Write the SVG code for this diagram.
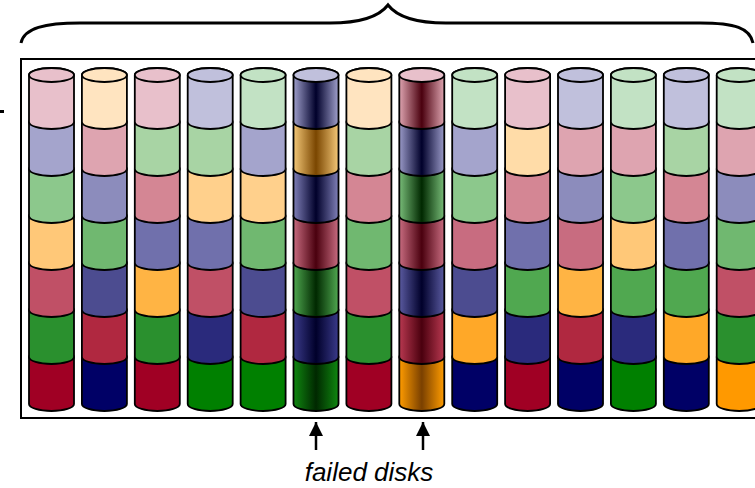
<svg xmlns="http://www.w3.org/2000/svg" xmlns:xlink="http://www.w3.org/1999/xlink" width="755" height="488" viewBox="0 0 755 488">
<style>
.s{stroke:#000;stroke-width:1.8;stroke-linejoin:round}
.R0{fill:#e8c0cb}.O0{fill:#ffe4c0}.B0{fill:#c0c0dc}.G0{fill:#c2e2c4}
.R1{fill:#dea4b0}.O1{fill:#ffdca8}.B1{fill:#a4a4cc}.G1{fill:#a8d4a4}
.R2{fill:#d48694}.O2{fill:#ffd08c}.B2{fill:#8c8cbc}.G2{fill:#8cc88c}
.R3{fill:#c86c80}.O3{fill:#ffc878}.B3{fill:#7070ac}.G3{fill:#70b870}
.R4{fill:#c05066}.O4{fill:#ffb444}.B4{fill:#4c4c90}.G4{fill:#50a850}
.R5{fill:#b02840}.O5{fill:#ffa828}.B5{fill:#2a2a7c}.G5{fill:#2a902e}
.R6{fill:#a00024}.O6{fill:#ff9900}.B6{fill:#000066}.G6{fill:#008000}
.lbl{font-family:"Liberation Sans",Arial,sans-serif;font-style:italic;font-size:26px;fill:#000}
</style>
<defs>
<path id="seg" class="s" d="M-22.5,0 V47 A22.5,7 0 0 0 22.5,47 V0 A22.5,7 0 0 0 -22.5,0 Z"/>
<ellipse id="top" class="s" cx="0" cy="0" rx="22.5" ry="7"/>
<linearGradient id="gB0"><stop offset="0" stop-color="#a0a0cc"/><stop offset="0.5" stop-color="#00002a"/><stop offset="1" stop-color="#a0a0cc"/></linearGradient>
<linearGradient id="gB1"><stop offset="0" stop-color="#9a9ac8"/><stop offset="0.5" stop-color="#00002a"/><stop offset="1" stop-color="#9a9ac8"/></linearGradient>
<linearGradient id="gB2"><stop offset="0" stop-color="#8080b8"/><stop offset="0.5" stop-color="#00002a"/><stop offset="1" stop-color="#8080b8"/></linearGradient>
<linearGradient id="gB4"><stop offset="0" stop-color="#5a5aa0"/><stop offset="0.5" stop-color="#00002a"/><stop offset="1" stop-color="#5a5aa0"/></linearGradient>
<linearGradient id="gB5"><stop offset="0" stop-color="#3a3a8a"/><stop offset="0.5" stop-color="#00002a"/><stop offset="1" stop-color="#3a3a8a"/></linearGradient>
<linearGradient id="gO1"><stop offset="0" stop-color="#f4c878"/><stop offset="0.5" stop-color="#7a4600"/><stop offset="1" stop-color="#f4c878"/></linearGradient>
<linearGradient id="gO6"><stop offset="0" stop-color="#ff9c00"/><stop offset="0.5" stop-color="#7a4000"/><stop offset="1" stop-color="#ff9c00"/></linearGradient>
<linearGradient id="gR0"><stop offset="0" stop-color="#dea4b0"/><stop offset="0.5" stop-color="#4a000e"/><stop offset="1" stop-color="#dea4b0"/></linearGradient>
<linearGradient id="gR3"><stop offset="0" stop-color="#c86c80"/><stop offset="0.5" stop-color="#4a000e"/><stop offset="1" stop-color="#c86c80"/></linearGradient>
<linearGradient id="gR5"><stop offset="0" stop-color="#b83850"/><stop offset="0.5" stop-color="#4a000e"/><stop offset="1" stop-color="#b83850"/></linearGradient>
<linearGradient id="gG2"><stop offset="0" stop-color="#78bc78"/><stop offset="0.5" stop-color="#002800"/><stop offset="1" stop-color="#78bc78"/></linearGradient>
<linearGradient id="gG4"><stop offset="0" stop-color="#50a850"/><stop offset="0.5" stop-color="#002800"/><stop offset="1" stop-color="#50a850"/></linearGradient>
<linearGradient id="gG6"><stop offset="0" stop-color="#108810"/><stop offset="0.5" stop-color="#002800"/><stop offset="1" stop-color="#108810"/></linearGradient>
<marker id="arr" viewBox="0 0 14 16" markerUnits="userSpaceOnUse" markerWidth="14" markerHeight="16" refX="14" refY="8" orient="auto">
<path d="M0,1 L14,8 L0,15 Z" fill="#000"/>
</marker>
</defs>

<rect width="755" height="488" fill="#fff"/>

<g id="brace">
<path d="M21,43 C24,28 45,23 80,23 L330,23 C358,23 378,18 388,5 C398,18 418,23 446,23 L700,23 C735,23 750,28 753,43" fill="none" stroke="#000" stroke-width="3"/>
</g>

<rect id="frame" x="21" y="59" width="760" height="359" fill="#fff" stroke="#000" stroke-width="2"/>
<rect x="0" y="110" width="4" height="3" fill="#000"/>

<g id="disk-0">
<use href="#seg" x="51.5" y="357" class="R6"/><use href="#seg" x="51.5" y="310" class="G5"/><use href="#seg" x="51.5" y="263" class="R4"/><use href="#seg" x="51.5" y="216" class="O3"/><use href="#seg" x="51.5" y="169" class="G2"/><use href="#seg" x="51.5" y="122" class="B1"/><use href="#seg" x="51.5" y="75" class="R0"/><use href="#top" x="51.5" y="75" class="R0"/>
</g>
<g id="disk-1">
<use href="#seg" x="104.4" y="357" class="B6"/><use href="#seg" x="104.4" y="310" class="R5"/><use href="#seg" x="104.4" y="263" class="B4"/><use href="#seg" x="104.4" y="216" class="G3"/><use href="#seg" x="104.4" y="169" class="B2"/><use href="#seg" x="104.4" y="122" class="R1"/><use href="#seg" x="104.4" y="75" class="O0"/><use href="#top" x="104.4" y="75" class="O0"/>
</g>
<g id="disk-2">
<use href="#seg" x="157.3" y="357" class="R6"/><use href="#seg" x="157.3" y="310" class="G5"/><use href="#seg" x="157.3" y="263" class="O4"/><use href="#seg" x="157.3" y="216" class="B3"/><use href="#seg" x="157.3" y="169" class="R2"/><use href="#seg" x="157.3" y="122" class="G1"/><use href="#seg" x="157.3" y="75" class="R0"/><use href="#top" x="157.3" y="75" class="R0"/>
</g>
<g id="disk-3">
<use href="#seg" x="210.2" y="357" class="G6"/><use href="#seg" x="210.2" y="310" class="B5"/><use href="#seg" x="210.2" y="263" class="R4"/><use href="#seg" x="210.2" y="216" class="B3"/><use href="#seg" x="210.2" y="169" class="O2"/><use href="#seg" x="210.2" y="122" class="G1"/><use href="#seg" x="210.2" y="75" class="B0"/><use href="#top" x="210.2" y="75" class="B0"/>
</g>
<g id="disk-4">
<use href="#seg" x="263.1" y="357" class="G6"/><use href="#seg" x="263.1" y="310" class="R5"/><use href="#seg" x="263.1" y="263" class="B4"/><use href="#seg" x="263.1" y="216" class="G3"/><use href="#seg" x="263.1" y="169" class="O2"/><use href="#seg" x="263.1" y="122" class="B1"/><use href="#seg" x="263.1" y="75" class="G0"/><use href="#top" x="263.1" y="75" class="G0"/>
</g>
<g id="disk-5">
<use href="#seg" x="316" y="357" fill="url(#gG6)"/><use href="#seg" x="316" y="310" fill="url(#gB5)"/><use href="#seg" x="316" y="263" fill="url(#gG4)"/><use href="#seg" x="316" y="216" fill="url(#gR3)"/><use href="#seg" x="316" y="169" fill="url(#gB2)"/><use href="#seg" x="316" y="122" fill="url(#gO1)"/><use href="#seg" x="316" y="75" fill="url(#gB0)"/><use href="#top" x="316" y="75" class="B0"/>
</g>
<g id="disk-6">
<use href="#seg" x="368.9" y="357" class="R6"/><use href="#seg" x="368.9" y="310" class="G5"/><use href="#seg" x="368.9" y="263" class="R4"/><use href="#seg" x="368.9" y="216" class="G3"/><use href="#seg" x="368.9" y="169" class="R2"/><use href="#seg" x="368.9" y="122" class="G1"/><use href="#seg" x="368.9" y="75" class="O0"/><use href="#top" x="368.9" y="75" class="O0"/>
</g>
<g id="disk-7">
<use href="#seg" x="421.8" y="357" fill="url(#gO6)"/><use href="#seg" x="421.8" y="310" fill="url(#gR5)"/><use href="#seg" x="421.8" y="263" fill="url(#gB4)"/><use href="#seg" x="421.8" y="216" fill="url(#gR3)"/><use href="#seg" x="421.8" y="169" fill="url(#gG2)"/><use href="#seg" x="421.8" y="122" fill="url(#gB1)"/><use href="#seg" x="421.8" y="75" fill="url(#gR0)"/><use href="#top" x="421.8" y="75" class="R0"/>
</g>
<g id="disk-8">
<use href="#seg" x="474.7" y="357" class="B6"/><use href="#seg" x="474.7" y="310" class="O5"/><use href="#seg" x="474.7" y="263" class="B4"/><use href="#seg" x="474.7" y="216" class="R3"/><use href="#seg" x="474.7" y="169" class="G2"/><use href="#seg" x="474.7" y="122" class="B1"/><use href="#seg" x="474.7" y="75" class="G0"/><use href="#top" x="474.7" y="75" class="G0"/>
</g>
<g id="disk-9">
<use href="#seg" x="527.6" y="357" class="R6"/><use href="#seg" x="527.6" y="310" class="B5"/><use href="#seg" x="527.6" y="263" class="G4"/><use href="#seg" x="527.6" y="216" class="B3"/><use href="#seg" x="527.6" y="169" class="R2"/><use href="#seg" x="527.6" y="122" class="O1"/><use href="#seg" x="527.6" y="75" class="R0"/><use href="#top" x="527.6" y="75" class="R0"/>
</g>
<g id="disk-10">
<use href="#seg" x="580.5" y="357" class="B6"/><use href="#seg" x="580.5" y="310" class="R5"/><use href="#seg" x="580.5" y="263" class="O4"/><use href="#seg" x="580.5" y="216" class="R3"/><use href="#seg" x="580.5" y="169" class="B2"/><use href="#seg" x="580.5" y="122" class="R1"/><use href="#seg" x="580.5" y="75" class="B0"/><use href="#top" x="580.5" y="75" class="B0"/>
</g>
<g id="disk-11">
<use href="#seg" x="633.4" y="357" class="G6"/><use href="#seg" x="633.4" y="310" class="B5"/><use href="#seg" x="633.4" y="263" class="G4"/><use href="#seg" x="633.4" y="216" class="O3"/><use href="#seg" x="633.4" y="169" class="G2"/><use href="#seg" x="633.4" y="122" class="R1"/><use href="#seg" x="633.4" y="75" class="G0"/><use href="#top" x="633.4" y="75" class="G0"/>
</g>
<g id="disk-12">
<use href="#seg" x="686.3" y="357" class="B6"/><use href="#seg" x="686.3" y="310" class="O5"/><use href="#seg" x="686.3" y="263" class="G4"/><use href="#seg" x="686.3" y="216" class="B3"/><use href="#seg" x="686.3" y="169" class="R2"/><use href="#seg" x="686.3" y="122" class="G1"/><use href="#seg" x="686.3" y="75" class="B0"/><use href="#top" x="686.3" y="75" class="B0"/>
</g>
<g id="disk-13">
<use href="#seg" x="739.2" y="357" class="O6"/><use href="#seg" x="739.2" y="310" class="G5"/><use href="#seg" x="739.2" y="263" class="R4"/><use href="#seg" x="739.2" y="216" class="G3"/><use href="#seg" x="739.2" y="169" class="B2"/><use href="#seg" x="739.2" y="122" class="R1"/><use href="#seg" x="739.2" y="75" class="G0"/><use href="#top" x="739.2" y="75" class="G0"/>
</g>

<g id="connectors">
<line x1="316" y1="450" x2="316" y2="422" stroke="#000" stroke-width="2.5" marker-end="url(#arr)"/>
<line x1="423" y1="450" x2="423" y2="422" stroke="#000" stroke-width="2.5" marker-end="url(#arr)"/>
</g>

<g id="label">
<text class="lbl" x="369" y="481" text-anchor="middle">failed disks</text>
</g>
</svg>
